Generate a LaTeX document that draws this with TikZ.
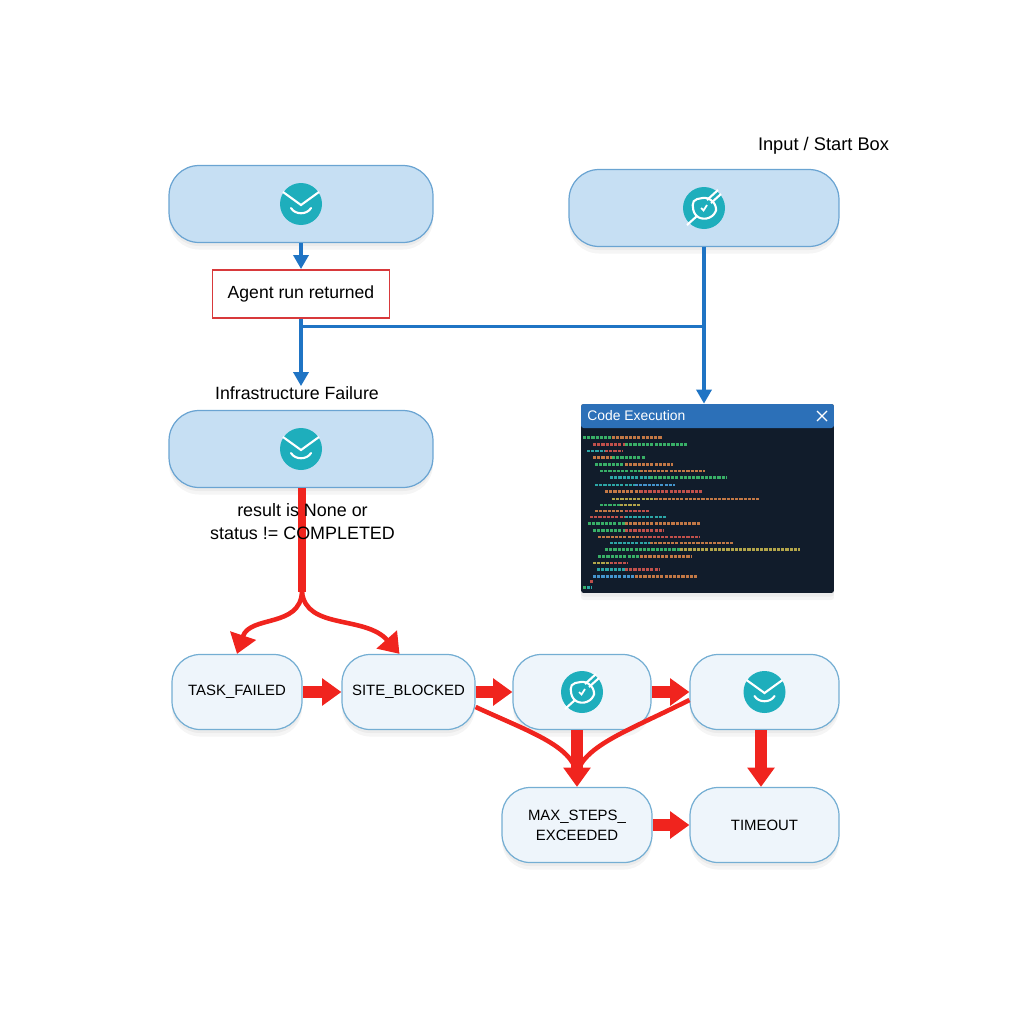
\documentclass[tikz,border=0pt]{standalone}
\usepackage{fontspec}
\setmainfont{Liberation Sans}
\usetikzlibrary{arrows.meta,positioning,shadows,calc}
\definecolor{topfill}{HTML}{C6DFF3}
\definecolor{topline}{HTML}{6AA4D2}
\definecolor{lowfill}{HTML}{EEF5FB}
\definecolor{lowline}{HTML}{74AED3}
\definecolor{teal}{HTML}{1EAEBC}
\definecolor{flowblue}{HTML}{1F74C4}
\definecolor{flowred}{HTML}{F0241E}
\definecolor{agentred}{HTML}{D8393B}
\definecolor{titleblue}{HTML}{2C70B8}
\definecolor{codebg}{HTML}{111C2B}
\definecolor{cgreen}{HTML}{3DBF6E}
\definecolor{corange}{HTML}{D6824A}
\definecolor{cteal}{HTML}{2FB5B5}
\definecolor{cyellow}{HTML}{C4B44E}
\definecolor{cred}{HTML}{D4564F}
\definecolor{cblue}{HTML}{4AA3E0}
\tikzset{
softshadow/.style={
  general shadow={shadow xshift=0pt, shadow yshift=-2pt, fill=black, opacity=.04},
  general shadow={shadow xshift=0pt, shadow yshift=-4pt, fill=black, opacity=.04}
  },
flowbox/.style={
  rectangle, align=center, inner sep=0pt, softshadow, line width=.7pt
  },
topbox/.style={
  flowbox, draw=topline, fill=topfill, rounded corners=.6cm, minimum height=1.54cm
  },
lowbox/.style={
  flowbox, draw=lowline, fill=lowfill, rounded corners=.56cm, minimum height=1.5cm,
  font=\fontsize{8.5}{11.5}\selectfont
  },
plainlabel/.style={
  inner sep=0pt, align=center, font=\fontsize{10.1}{13}\selectfont
  },
blueflow/.style={
  draw=flowblue, line width=2pt, -{Triangle[length=8pt,width=8.5pt]}
  },
blueline/.style={
  draw=flowblue, line width=2pt
  },
redflow/.style={
  draw=flowred, line width=6.5pt, -{Triangle[length=11pt,width=15pt]}
  },
redcurve/.style={
  draw=flowred, line width=2.6pt, -{Triangle[length=11pt,width=15pt]}
  },
redbranch/.style={
  draw=flowred, line width=2.6pt
  },
codeline/.style={
  line width=1.5pt, dash pattern=on 1.8pt off .6pt, opacity=.9
  },
mailicon/.pic={
  \fill[teal] (0,0) circle (21);
  \draw[white, line width=1.2pt] (-18,-12) -- (0,1) -- (18,-12);
  \draw[white, line width=1.2pt, line cap=round] (-10,4) .. controls (-6,11) and (6,11) .. (10,4);
  },
brushicon/.pic={
  \fill[teal] (0,0) circle (21);
  \draw[white, line width=1.2pt, rounded corners=3pt]
    (-12,-8) -- (4,-11) -- (13,-2) -- (11,7) -- (0,12) -- (-10,7) -- cycle;
  \draw[white, line width=1.2pt] (-17,17) -- (-7,8);
  \draw[white, line width=1.2pt] (3,-8) -- (14,-18);
  \draw[white, line width=1.2pt] (7,-5) -- (17,-14);
  \draw[white, line width=1pt] (-3,0) -- (-.5,2.5) -- (3,-3);
  }
}

\begin{document}
\begin{tikzpicture}[x=0.02cm,y=-0.02cm]
\useasboundingbox (0,0) rectangle (1024,1024);

% top row
\node[topbox, minimum width=5.28cm] at (301,204) (startA) {};
\node[topbox, minimum width=5.40cm] at (704,208) (startB) {};
\pic (iconA) at (startA) {mailicon};
\pic (iconB) at (startB) {brushicon};
\node[plainlabel, font=\fontsize{10.4}{13}\selectfont] at (823.5,146) (inputlbl) {Input / Start Box};

\node[draw=agentred, fill=white, line width=.8pt, minimum width=3.54cm, minimum height=.96cm,
  inner sep=0pt, font=\fontsize{10}{13}\selectfont, below=.52cm of startA] (agent) {Agent run returned};

% failure box
\node[plainlabel] at (297,393) (failurelbl) {Infrastructure Failure};
\node[topbox, minimum width=5.28cm] at (301,449) (failure) {};
\pic (iconC) at (failure) {mailicon};

% code window
\node[rectangle, fill=codebg, rounded corners=1.5pt, minimum width=5.06cm, minimum height=3.78cm,
  inner sep=0pt, softshadow] at (707.5,498.5) (codewin) {};
\node[rectangle, fill=titleblue, rounded corners=1.5pt, minimum width=5.06cm, minimum height=.48cm,
  inner sep=0pt, below=0pt of codewin.north] (codebar) {};
\node[plainlabel, text=white, font=\fontsize{7.9}{11}\selectfont, anchor=west] at (587,416) (codetitle) {Code Execution};
\coordinate (closeA) at (817,411);
\coordinate (closeB) at (827,421);
\draw[white, line width=.7pt] (closeA) -- (closeB);
\draw[white, line width=.7pt] (closeA |- closeB) -- (closeB |- closeA);
\foreach \ly/\xa/\xm/\xb/\ca/\cb in {
  437.7/583/612/662/cgreen/corange, 444.3/593/625/688/cred/cgreen,
  451/587/605/623/cteal/cred, 457.7/593/612/645/corange/cgreen,
  464.3/595/625/673/cgreen/corange, 471/600/640/705/cgreen/corange,
  477.7/610/650/727/cteal/cgreen, 485/595/635/675/cteal/cblue,
  491.7/605/640/703/corange/cred, 499/612/655/760/cyellow/corange,
  505/600/620/640/cgreen/cyellow, 511/595/625/650/corange/cred,
  517/590/625/667/cred/cteal, 523.7/588/625/700/cgreen/corange,
  530.3/593/625/663/cgreen/cred, 537/598/640/700/corange/cred,
  543/610/650/733/cteal/corange, 549.7/605/680/800/cgreen/cyellow,
  556.3/598/640/692/cgreen/corange, 563/593/610/627/cyellow/cred,
  569.7/597/625/660/cteal/cred, 576.3/593/635/697/cblue/corange,
  581.7/590/592/593/cred/cred, 587.7/583/587/592/cgreen/cteal}{
  \draw[codeline, \ca] (\xa,\ly) -- (\xm,\ly);
  \draw[codeline, \cb] (\xm,\ly) -- (\xb,\ly);
}

% lower rows
\node[lowbox, minimum width=2.6cm] at (237,692) (taskfailed) {TASK\_FAILED};
\node[lowbox, minimum width=2.66cm] at (408.5,692) (siteblocked) {SITE\_BLOCKED};
\node[lowbox, minimum width=2.76cm] at (582,692) (stepA) {};
\node[lowbox, minimum width=2.98cm] at (764.5,692) (stepB) {};
\pic (iconD) at (stepA) {brushicon};
\pic (iconE) at (stepB) {mailicon};
\node[lowbox, minimum width=3.0cm] at (577,825) (maxsteps) {MAX\_STEPS\_\\EXCEEDED};
\node[lowbox, minimum width=2.98cm] at (764.5,825) (timeout) {TIMEOUT};

% blue links
\coordinate (joinL) at ($(agent.south)+(0,8)$);
\coordinate (joinR) at (startB.south |- joinL);
\draw[blueflow] (startA.south) -- (agent.north);
\draw[blueline] (joinL) -- (joinR);
\draw[blueflow] (agent.south) -- (agent.south |- failurelbl.north);
\draw[blueflow] (startB.south) -- (startB.south |- codewin.north);

% red links
\coordinate (split) at (302,592);
\coordinate (maxin) at ($(maxsteps.north)+(0,-14)$);
\draw[draw=flowred, line width=5pt] (failure.south -| split) -- (split);
\draw[redcurve] (split) .. controls (300,628) and (250,615) .. (taskfailed.north);
\draw[redcurve] (split) .. controls (306,630) and (365,615) .. ([xshift=-.18cm]siteblocked.north);
\draw[redflow] (taskfailed) -- (siteblocked);
\draw[redflow] (siteblocked) -- (stepA);
\draw[redflow] (stepA) -- (stepB);
\draw[redbranch] ([yshift=-.3cm]siteblocked.east) .. controls (530,732) and (570,745) .. (maxin);
\draw[redbranch] ([yshift=-.16cm]stepB.west) .. controls (630,730) and (585,745) .. (maxin);
\draw[redflow] (stepA.south -| maxsteps.north) -- (maxsteps.north);
\draw[redflow] (stepB.south -| timeout.north) ++(-.07cm,0) coordinate (timeA) -- (timeA |- timeout.north);
\draw[redflow] (maxsteps) -- (timeout);

% label over the red line
\node[plainlabel, font=\fontsize{10.2}{13}\selectfont] at (302.5,521.5) (resultlbl) {result is None or\\status != COMPLETED};

\end{tikzpicture}
\end{document}
